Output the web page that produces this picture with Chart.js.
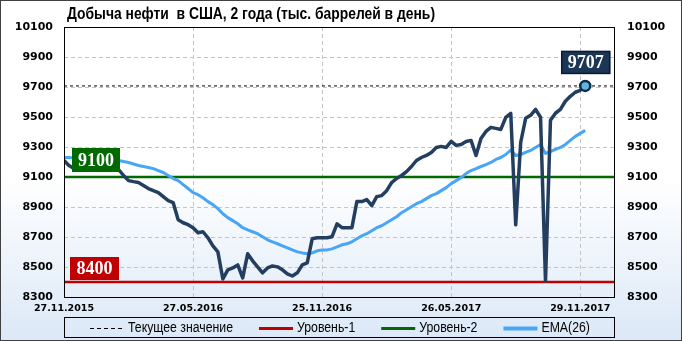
<!DOCTYPE html>
<html>
<head>
<meta charset="utf-8">
<script src="https://cdn.jsdelivr.net/npm/chart.js@4.4.0/dist/chart.umd.min.js"></script>
<style>
    html, body { margin: 0; padding: 0; background: #fff; }
    #wrap {
        width: 682px; height: 341px;
        background: linear-gradient(to bottom, #ffffff 0%, #ffffff 52%, #dbe8f7 100%);
    }
</style>
</head>
<body>
<div id="wrap"><canvas id="oilChart" width="682" height="341"></canvas></div>
<script>
// Weekly US crude output, thousand barrels a day (27.11.2015 - 29.11.2017)
const tickDates = ['27.11.2015', '27.05.2016', '25.11.2016', '26.05.2017', '29.11.2017'];
const weeksPerTick = 26;
const axisWeeks = 111;

const production = [
    9210, 9177, 9157, 9170, 9163, 9170, 9163, 9177, 9170, 9163,
    9170, 9150, 9110, 9076, 9069, 9063, 9043, 9023, 9009, 8996,
    8969, 8942, 8929, 8815, 8795, 8782, 8762, 8728, 8735, 8695,
    8641, 8601, 8420, 8481, 8494, 8514, 8427, 8588, 8541, 8501,
    8461, 8494, 8507, 8501, 8481, 8454, 8440, 8461, 8514, 8527,
    8688, 8695, 8695, 8695, 8702, 8788, 8762, 8762, 8762, 8936,
    8936, 8949, 8909, 8969, 8976, 9009, 9063, 9090, 9110, 9136,
    9170, 9210, 9230, 9244, 9264, 9297, 9304, 9297, 9337, 9311,
    9317, 9337, 9344, 9243, 9357, 9404, 9431, 9424, 9417, 9498,
    9525, 8781, 9330, 9491, 9511, 9551, 9498, 8405, 9478, 9525,
    9551, 9605, 9638, 9665, 9678, 9707
];

const ema26 = [
    9230, 9230, 9227, 9223, 9220, 9217, 9217, 9213, 9213, 9210,
    9210, 9210, 9203, 9197, 9187, 9177, 9170, 9163, 9156, 9143,
    9130, 9110, 9090, 9076, 9049, 9023, 8996, 8982, 8962, 8936,
    8916, 8889, 8855, 8829, 8809, 8788, 8762, 8748, 8735, 8722,
    8702, 8681, 8668, 8655, 8641, 8628, 8614, 8601, 8594, 8588,
    8594, 8608, 8614, 8614, 8621, 8634, 8648, 8655, 8668, 8688,
    8708, 8722, 8742, 8762, 8775, 8795, 8815, 8835, 8862, 8882,
    8902, 8922, 8936, 8956, 8976, 8989, 9009, 9029, 9056, 9076,
    9096, 9123, 9143, 9156, 9170, 9183, 9197, 9217, 9230, 9250,
    9280, 9243, 9250, 9264, 9277, 9297, 9317, 9257, 9270, 9284,
    9297, 9317, 9344, 9371, 9391, 9411
];

const level1 = 8400;
const level2 = 9100;
const lastValue = production[production.length - 1];

const legendNames = ['Текущее значение', 'Уровень-1', 'Уровень-2', 'EMA(26)'];

const colors = {
    main: '#243e5f',
    ema: '#49a5f5',
    red: '#c00000',
    green: '#006a00',
    navy: '#1c3656'
};

const tickFont = { family: 'DejaVu Sans', weight: 'bold', size: 11 };

function flatLine(value) {
    return [{ x: 0, y: value }, { x: axisWeeks, y: value }];
}

// squeeze a sans font to look like a narrow face
function narrowText(ctx, text, x, y, squeeze) {
    ctx.save();
    ctx.translate(x, y);
    ctx.scale(squeeze, 1);
    ctx.fillText(text, 0, 0);
    ctx.restore();
    return ctx.measureText(text).width * squeeze;
}

function drawTag(ctx, text, left, top, w, h, fill, edge) {
    ctx.fillStyle = fill;
    ctx.fillRect(left, top, w, h);
    if (edge) {
        ctx.strokeStyle = edge;
        ctx.lineWidth = 1.5;
        ctx.strokeRect(left + 0.5, top + 0.5, w - 1, h - 1);
    }
    ctx.fillStyle = '#fff';
    ctx.font = 'bold 18px "Liberation Serif"';
    ctx.textAlign = 'center';
    ctx.textBaseline = 'middle';
    ctx.fillText(text, left + w / 2, top + h / 2 + 1);
}

const decor = {
    id: 'decor',
    afterDraw(chart) {
        const { ctx, chartArea: a, scales: { x, y } } = chart;
        ctx.save();

        // plot frame
        ctx.strokeStyle = '#000';
        ctx.lineWidth = 1;
        ctx.strokeRect(Math.round(a.left) + 0.5, Math.round(a.top) + 0.5,
            Math.round(a.right - a.left) - 1, Math.round(a.bottom - a.top));

        // value tags
        drawTag(ctx, String(level2), a.left + 8, y.getPixelForValue(level2) - 29, 48, 24, colors.green);
        drawTag(ctx, String(level1), a.left + 6, y.getPixelForValue(level1) - 25, 49, 23, colors.red);
        const lx = x.getPixelForValue(production.length - 1);
        drawTag(ctx, String(lastValue), lx - 24, y.getPixelForValue(lastValue) - 35, 49, 23, colors.navy, '#0a1a33');

        // title
        const title = 'Добыча нефти  в США, 2 года (тыс. баррелей в день)';
        ctx.fillStyle = '#000';
        ctx.font = 'bold 16px "Liberation Sans"';
        ctx.textAlign = 'left';
        ctx.textBaseline = 'alphabetic';
        narrowText(ctx, title, 67, 19, 368 / ctx.measureText(title).width);

        // legend
        const ly = 328;
        ctx.strokeStyle = '#000';
        ctx.lineWidth = 1;
        ctx.strokeRect(Math.round(a.left) + 0.5, 317.5, Math.round(a.right - a.left) - 1, 20);
        ctx.font = '14px "Liberation Sans"';
        ctx.textBaseline = 'middle';
        const squeeze = 105 / ctx.measureText(legendNames[0]).width;
        const samples = [
            { color: '#000', width: 1, dash: [4, 3] },
            { color: colors.red, width: 3, dash: [] },
            { color: colors.green, width: 3, dash: [] },
            { color: colors.ema, width: 4, dash: [] }
        ];
        let cx = 90;
        legendNames.forEach((name, i) => {
            const s = samples[i];
            ctx.beginPath();
            ctx.strokeStyle = s.color;
            ctx.lineWidth = s.width;
            ctx.setLineDash(s.dash);
            ctx.moveTo(cx, ly + 0.5);
            ctx.lineTo(cx + 34, ly + 0.5);
            ctx.stroke();
            ctx.setLineDash([]);
            ctx.fillStyle = '#000';
            const w = narrowText(ctx, name, cx + 38, ly, squeeze);
            cx += 38 + w + 26;
        });

        // outer border
        ctx.strokeStyle = '#404040';
        ctx.lineWidth = 1;
        ctx.strokeRect(0.5, 0.5, chart.width - 1, chart.height - 1);
        ctx.restore();
    }
};

const ctx = document.getElementById('oilChart').getContext('2d');
new Chart(ctx, {
    type: 'line',
    data: {
        datasets: [
            {
                label: 'Добыча',
                data: production.map((v, i) => ({ x: i, y: v })),
                borderColor: colors.main,
                borderWidth: 3.5,
                borderJoinStyle: 'round',
                borderCapStyle: 'round',
                tension: 0,
                pointRadius: c => c.dataIndex === production.length - 1 ? 5 : 0,
                pointBackgroundColor: '#5fb8d8',
                pointBorderColor: '#0e2a50',
                pointBorderWidth: 2.5,
                order: 0
            },
            {
                label: legendNames[3],
                data: ema26.map((v, i) => ({ x: i, y: v })),
                borderColor: colors.ema,
                borderWidth: 3,
                borderJoinStyle: 'round',
                tension: 0,
                pointRadius: 0,
                order: 1
            },
            {
                label: legendNames[0],
                data: flatLine(lastValue),
                borderColor: '#000',
                borderWidth: 1,
                borderDash: [3, 3],
                pointRadius: 0,
                order: 2
            },
            {
                label: legendNames[1],
                data: flatLine(level1),
                borderColor: colors.red,
                borderWidth: 2.5,
                pointRadius: 0,
                order: 2
            },
            {
                label: legendNames[2],
                data: flatLine(level2),
                borderColor: colors.green,
                borderWidth: 2.5,
                pointRadius: 0,
                order: 2
            }
        ]
    },
    options: {
        responsive: false,
        animation: false,
        layout: { padding: { top: 27 } },
        plugins: {
            legend: { display: false },
            tooltip: { enabled: false }
        },
        scales: {
            x: {
                type: 'linear',
                min: 0,
                max: axisWeeks,
                afterBuildTicks: s => {
                    s.ticks = tickDates.map((d, i) => ({ value: i * weeksPerTick }));
                },
                afterFit: s => { s.height = 44; },
                grid: { color: '#c4c4c4', drawTicks: false },
                border: { display: false, dash: [4, 3] },
                ticks: {
                    padding: 6,
                    color: '#000',
                    maxRotation: 0,
                    autoSkip: false,
                    font: { family: 'DejaVu Sans', weight: 'bold', size: 9.5 },
                    callback: v => tickDates[Math.round(v / weeksPerTick)]
                }
            },
            y: {
                position: 'left',
                min: 8300,
                max: 10100,
                afterFit: s => { s.width = 64; },
                grid: { color: '#c4c4c4', drawTicks: false },
                border: { display: false, dash: [4, 3] },
                ticks: { stepSize: 200, padding: 11, color: '#000', font: tickFont, callback: v => String(v) }
            },
            y2: {
                position: 'right',
                min: 8300,
                max: 10100,
                afterFit: s => { s.width = 67; },
                grid: { display: false, drawTicks: false },
                border: { display: false },
                ticks: { stepSize: 200, padding: 12, color: '#000', font: tickFont, callback: v => String(v) }
            }
        }
    },
    plugins: [decor]
});
</script>
</body>
</html>
